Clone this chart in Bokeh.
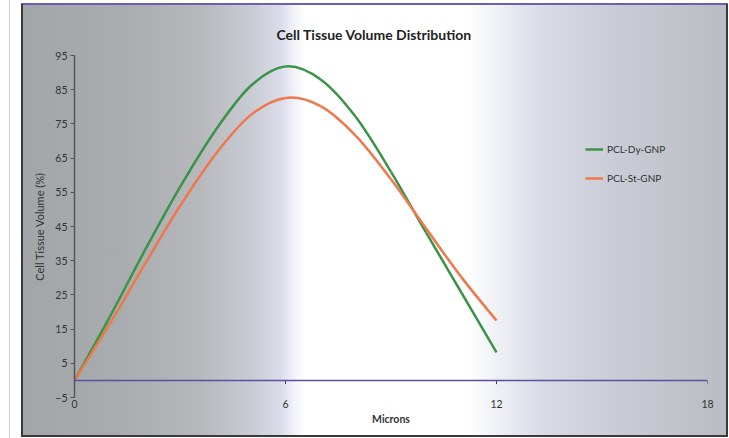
from bokeh.plotting import figure
from bokeh.models import FixedTicker, Span, Legend, LegendItem, ColumnDataSource
from bokeh.embed import file_html
from bokeh.resources import INLINE

# ---- data ----
microns = [0, 1, 2, 3, 4, 5, 6, 7, 8, 9, 10, 11, 12]
pcl_dy_gnp = [0, 18.5, 38.0, 56.5, 73.0, 86.0, 91.8, 88.0, 77.0, 61.0, 43.2, 25.7, 8.2]
pcl_st_gnp = [0, 16.5, 34.0, 51.0, 66.0, 77.5, 82.6, 80.2, 71.5, 58.8, 44.4, 30.2, 17.5]
x_ticks = [0, 6, 12, 18]
y_ticks = [-5, 5, 15, 25, 35, 45, 55, 65, 75, 85, 95]

GREEN = "#3a9446"
ORANGE = "#f0774b"
FONT = "Lato"


def smooth_source(xs, ys):
    """Bezier control points (Excel-like smoothed line) through the data points."""
    n = len(xs)
    d = dict(x0=[], y0=[], x1=[], y1=[], cx0=[], cy0=[], cx1=[], cy1=[])
    for i in range(n - 1):
        pm = max(i - 1, 0)
        pp = min(i + 2, n - 1)
        d["x0"].append(xs[i]); d["y0"].append(ys[i])
        d["x1"].append(xs[i + 1]); d["y1"].append(ys[i + 1])
        d["cx0"].append(xs[i] + (xs[i + 1] - xs[pm]) / 6.0)
        d["cy0"].append(ys[i] + (ys[i + 1] - ys[pm]) / 6.0)
        d["cx1"].append(xs[i + 1] - (xs[pp] - xs[i]) / 6.0)
        d["cy1"].append(ys[i + 1] - (ys[pp] - ys[i]) / 6.0)
    return ColumnDataSource(d)


p = figure(
    frame_width=633, frame_height=342,
    min_border_left=74, min_border_right=22, min_border_top=55, min_border_bottom=41,
    x_range=(0, 18), y_range=(-5, 95),
    output_backend="svg", toolbar_location=None,
    title="Cell Tissue Volume Distribution",
)

# background (horizontal gradient panel with frame, as in the reference)
stops = ("#a3a6a8 0px, #a9acae 97px, #b6b8bc 177px, #c9cbd3 227px, #dadbe9 257px, "
         "#f3f3fa 272px, #ffffff 282px, #ffffff 445px, #eef0f5 475px, #d8dbe4 520px, "
         "#c9ccd4 597px, #b9bdc3 703px")
bg = ", ".join([
    "linear-gradient(#3a3a3a,#3a3a3a) 21px 4px / 2px 433px no-repeat",
    "linear-gradient(#3a3a3a,#3a3a3a) 726px 4px / 2px 433px no-repeat",
    "linear-gradient(#3a3a3a,#3a3a3a) 21px 435px / 707px 2px no-repeat",
    "linear-gradient(#6c5fb0,#6c5fb0) 21px 3px / 707px 2px no-repeat",
    "linear-gradient(#cfcfcf,#cfcfcf) 9px 0px / 1px 438px no-repeat",
    f"linear-gradient(to right, {stops}) 23px 5px / 703px 430px no-repeat",
    "#ffffff",
])
p.styles = {"background": bg}
p.border_fill_alpha = 0
p.background_fill_alpha = 0
p.outline_line_alpha = 0
p.xgrid.visible = False
p.ygrid.visible = False

# title
p.title.align = "left"
p.title.offset = 202
p.title.text_font = FONT
p.title.text_font_size = "14px"
p.title.text_font_style = "bold"
p.title.text_color = "#222222"
p.title.standoff = 26

# y axis
ya = p.yaxis[0]
ya.ticker = FixedTicker(ticks=y_ticks)
ya.minor_tick_line_alpha = 0
ya.axis_line_color = "#555555"
ya.axis_line_width = 1.5
ya.major_tick_line_color = "#555555"
ya.major_tick_in = 0
ya.major_tick_out = 4
ya.major_label_standoff = 3
ya.major_label_text_font = FONT
ya.major_label_text_font_size = "10.5px"
ya.major_label_text_color = "#333333"
ya.axis_label = "Cell Tissue Volume (%)"
ya.axis_label_text_font = FONT
ya.axis_label_text_font_size = "11px"
ya.axis_label_text_font_style = "normal"
ya.axis_label_text_color = "#333333"
ya.axis_label_standoff = 6

# x axis (labels at the bottom, line drawn at y = 0)
xa = p.xaxis[0]
xa.ticker = FixedTicker(ticks=x_ticks)
xa.minor_tick_line_alpha = 0
xa.axis_line_alpha = 0
xa.major_tick_line_alpha = 0
xa.major_tick_in = 0
xa.major_tick_out = 0
xa.major_label_standoff = 2
xa.major_label_text_font = FONT
xa.major_label_text_font_size = "10.5px"
xa.major_label_text_color = "#333333"
xa.axis_label = "Microns"
xa.axis_label_text_font = FONT
xa.axis_label_text_font_size = "10.5px"
xa.axis_label_text_font_style = "bold"
xa.axis_label_text_color = "#333333"
xa.axis_label_standoff = 2

p.add_layout(Span(location=0, dimension="width", line_color="#5a52a0", line_width=1.5))
p.segment(x0=x_ticks[1:], y0=[0] * 3, x1=x_ticks[1:], y1=[-1.1] * 3,
          line_color="#444444", line_width=1)

# series
r_dy = p.bezier(x0="x0", y0="y0", x1="x1", y1="y1", cx0="cx0", cy0="cy0",
                cx1="cx1", cy1="cy1", source=smooth_source(microns, pcl_dy_gnp),
                line_color=GREEN, line_width=2.5)
r_st = p.bezier(x0="x0", y0="y0", x1="x1", y1="y1", cx0="cx0", cy0="cy0",
                cx1="cx1", cy1="cy1", source=smooth_source(microns, pcl_st_gnp),
                line_color=ORANGE, line_width=2.5)

legend = Legend(
    items=[LegendItem(label="PCL-Dy-GNP", renderers=[r_dy]),
           LegendItem(label="PCL-St-GNP", renderers=[r_st])],
    location=(511, 213),
    glyph_width=18, glyph_height=10, label_height=10, label_standoff=4,
    spacing=17, padding=0, margin=0,
    border_line_alpha=0, background_fill_alpha=0,
    label_text_font=FONT, label_text_font_size="10px", label_text_color="#333333",
)
p.add_layout(legend)

open("out.html", "w").write(file_html(p, INLINE))
